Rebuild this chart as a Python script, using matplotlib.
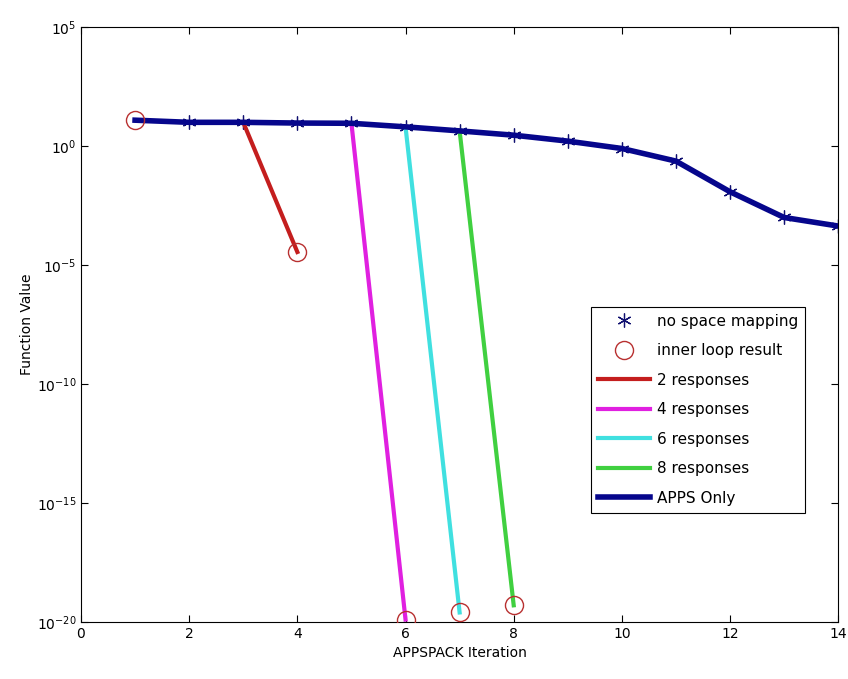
import numpy as np
import matplotlib
matplotlib.use('Agg')
import matplotlib.pyplot as plt

matplotlib.rcParams.update({'font.size': 10, 'font.family': 'DejaVu Sans'})

# APPS only / no space mapping (log10 of function value)
apps_iter = [1, 2, 3, 4, 5, 6, 7, 8, 9, 10, 11, 12, 13, 14]
apps_log = [1.09, 1.0, 1.0, 0.97, 0.96, 0.81, 0.64, 0.46, 0.21, -0.1, -0.63, -1.92, -3.0, -3.36]

# space mapping branches: (start iter, start log, end iter, end log)
resp_labels = ['2 responses', '4 responses', '6 responses', '8 responses']
resp_colors = ['#c41e1e', '#e020e0', '#40e0e0', '#40d040']
resp_x = [[3, 4], [5, 6], [6, 7], [7, 8]]
resp_log = [[1.0, -4.45], [0.96, -19.9], [0.81, -19.6], [0.64, -19.3]]

# inner loop result circles
inner_x = [1, 4, 6, 7, 8]
inner_log = [1.09, -4.45, -19.9, -19.6, -19.3]

star = (6, 2, 0)

fig = plt.figure(figsize=(8.48, 6.79), dpi=100)
ax = fig.add_axes([0.0955, 0.084, 0.893, 0.876])

h_star, = ax.semilogy(apps_iter[1:], 10.0**np.array(apps_log[1:]), linestyle='none',
                      marker=star, markersize=10, color='#101070', markeredgewidth=0.9)
h_circ, = ax.semilogy(inner_x, 10.0**np.array(inner_log), linestyle='none', marker='o',
                      markersize=13, markerfacecolor='none', markeredgecolor='#b83030',
                      markeredgewidth=1, zorder=5)
handles = [h_star, h_circ]
for xs, ys, c, lab in zip(resp_x, resp_log, resp_colors, resp_labels):
    h, = ax.semilogy(xs, 10.0**np.array(ys), color=c, linewidth=3, label=lab)
    handles.append(h)
h_apps, = ax.semilogy(apps_iter, 10.0**np.array(apps_log), color='#06068c', linewidth=4)
handles.append(h_apps)

ax.set_xlim(0, 14)
ax.set_ylim(1e-20, 1e5)
ax.set_xticks(range(0, 15, 2))
ax.set_yticks([10.0**k for k in range(-20, 6, 5)])
ax.set_yticklabels(['$10^{%d}$' % k for k in range(-20, 6, 5)])
ax.minorticks_off()
ax.tick_params(direction='in', top=True, right=True, length=5)
ax.set_xlabel('APPSPACK Iteration')
ax.set_ylabel('Function Value', labelpad=2)

leg = ax.legend(handles, ['no space mapping', 'inner loop result'] + resp_labels + ['APPS Only'],
                loc='upper left', bbox_to_anchor=(0.674, 0.53), fancybox=False,
                edgecolor='black', framealpha=1, handlelength=3.4, handletextpad=0.45,
                borderpad=0.45, labelspacing=0.95, fontsize=11, borderaxespad=0)
leg.get_frame().set_linewidth(0.8)

fig.savefig('out.png', dpi=100)
